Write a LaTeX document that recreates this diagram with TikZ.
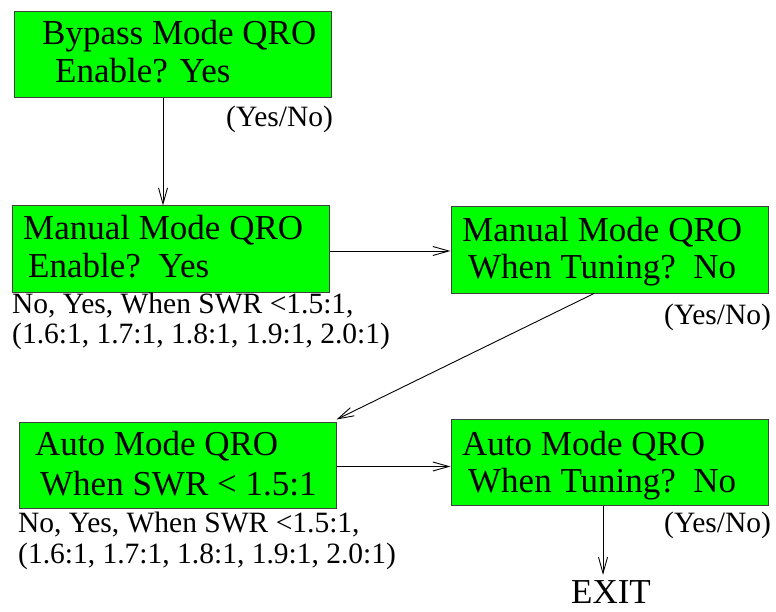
\documentclass[tikz,border=0pt]{standalone}
\usepackage{fontspec}
\setmainfont{Liberation Serif}
\usetikzlibrary{arrows.meta}
\begin{document}
\begin{tikzpicture}[x=1pt,y=-1pt,
  box/.style={draw=black!75, line width=1pt, fill=green, minimum width=317pt, minimum height=86pt, inner sep=0pt},
  big/.style={anchor=base west, inner sep=0pt, font=\fontsize{35}{40}\selectfont},
  small/.style={anchor=base west, inner sep=0pt, font=\fontsize{29.5}{33}\selectfont},
  arr/.style={-{Straight Barb[length=16pt,width=9pt]}, line width=0.9pt}]
\useasboundingbox (0,0) rectangle (776,612);
% boxes
\node[box] (b1) at (172.5,55) {};
\node[box] (b2) at (170.5,249) {};
\node[box] (b3) at (609.5,250) {};
\node[box] (b4) at (177.5,465) {};
\node[box] (b5) at (609.5,462.5) {};
% box texts
\node[big] (t1a) at (42,45) {Bypass Mode QRO};
\node[big] (t1b) at (55,83) {Enable? Yes};
\node[big] (t2a) at (23,240) {Manual Mode QRO};
\node[big] (t2b) at (28,277) {Enable?\ \ Yes};
\node[big] (t3a) at (462,242) {Manual Mode QRO};
\node[big] (t3b) at (468,279) {When Tuning?\ \ No};
\node[big] (t4a) at (35,455) {Auto Mode QRO};
\node[big] (t4b) at (40,495) {When SWR < 1.5:1};
\node[big] (t5a) at (462,455) {Auto Mode QRO};
\node[big] (t5b) at (468,492) {When Tuning?\ \ No};
% option labels
\node[small] (o1) at (226,127) {(Yes/No)};
\node[small] (o2a) at (12,313) {No, Yes, When SWR <1.5:1,};
\node[small] (o2b) at (12,343) {(1.6:1, 1.7:1, 1.8:1, 1.9:1, 2.0:1)};
\node[small] (o3) at (664,324) {(Yes/No)};
\node[small] (o4a) at (18,532) {No, Yes, When SWR <1.5:1,};
\node[small] (o4b) at (18,563) {(1.6:1, 1.7:1, 1.8:1, 1.9:1, 2.0:1)};
\node[small] (o5) at (664,532) {(Yes/No)};
\node[anchor=base, inner sep=0pt, font=\fontsize{35}{40}\selectfont] (ex) at (611,603) {EXIT};
% connectors
\draw[arr] ([xshift=-9.5pt]b1.south) -- ([xshift=-9.5pt]b1.south |- b2.north);
\draw[arr] ([yshift=-2pt]b2.east) -- ([yshift=-2pt]b2.east -| b3.west);
\draw[arr] ([xshift=-15.5pt]b3.south) -- ([yshift=2pt]b4.north east);
\draw[arr] ([yshift=-1.5pt]b4.east) -- ([yshift=-1.5pt]b4.east -| b5.west);
\draw[arr, shorten >=5pt] ([xshift=-6.5pt]b5.south) -- ([xshift=-6.5pt]b5.south |- ex.north);
\end{tikzpicture}
\end{document}
